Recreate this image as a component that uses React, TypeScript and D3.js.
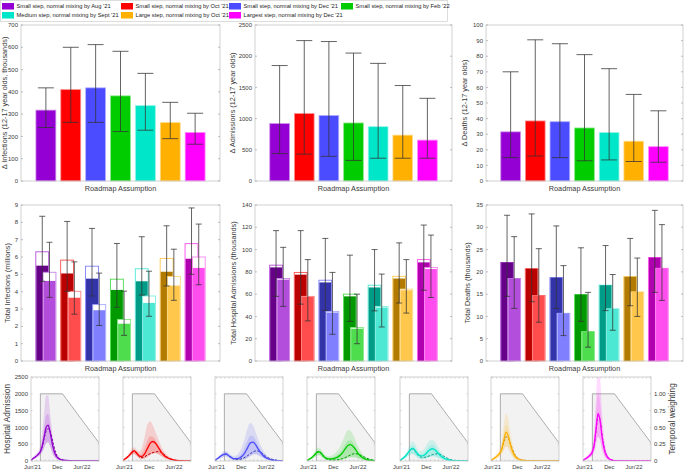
import React from "react";
import * as d3 from "d3";

const FONT = "'Liberation Sans', Arial, Helvetica, sans-serif";

// ---------- scenarios / colours ----------
const scenarioLabels = [
  "Small step, normal mixing by Aug '21",
  "Small step, normal mixing by Oct '21",
  "Small step, normal mixing by Dec '21",
  "Small step, normal mixing by Feb '22",
  "Medium step, normal mixing by Sept '21",
  "Large step, normal mixing by Oct '21",
  "Largest step, normal mixing by Dec '21",
];
const baseColors = ["#9400d3", "#ff0000", "#4b4bff", "#00cc00", "#00e6c8", "#ffb000", "#ff00ff"];
const darkColors = ["#660088", "#bb0000", "#3333aa", "#009900", "#009c88", "#b37a00", "#b000b0"];
const lightColors = ["#b34ddb", "#ff4d4d", "#8080ff", "#4ddd4d", "#4de8d4", "#ffc84d", "#ff4dee"];

// ---------- top row: change for 12-17 year olds ----------
const dInfMed = [318, 410, 418, 382, 338, 262, 218];
const dInfLo = [240, 263, 263, 222, 228, 190, 165];
const dInfHi = [418, 600, 612, 582, 483, 353, 304];

const dAdmMed = [920, 1080, 1050, 930, 870, 735, 655];
const dAdmLo = [440, 430, 395, 330, 365, 365, 365];
const dAdmHi = [1850, 2250, 2235, 2050, 1885, 1530, 1325];

const dDeaMed = [31.5, 38.5, 38, 34, 31, 25.5, 22];
const dDeaLo = [15, 16, 15, 13, 13.5, 12.5, 12];
const dDeaHi = [70, 90.5, 88, 81, 72, 55.5, 45];

// ---------- middle row: totals (dark = left bar, light = right bar) ----------
const infDark = [5.5, 5.05, 4.75, 4.1, 4.6, 5.15, 5.9];
const infDarkHollow = [6.3, 5.82, 5.47, 4.72, 5.32, 5.92, 6.77];
const infDarkLo = [4.6, 4.02, 3.75, 3.1, 3.8, 4.33, 5.0];
const infDarkHi = [8.35, 8.05, 7.65, 6.78, 7.17, 7.8, 8.83];
const infLight = [4.62, 3.65, 2.93, 2.15, 3.35, 4.35, 5.37];
const infLightHollow = [5.12, 4.02, 3.25, 2.4, 3.75, 4.88, 6.0];
const infLightLo = [3.67, 2.7, 2.05, 1.48, 2.58, 3.5, 4.4];
const infLightHi = [6.85, 5.72, 5.07, 4.03, 5.18, 6.45, 7.9];

const admDark = [84, 77.5, 70.5, 58, 66, 74, 88.5];
const admDarkHollow = [86, 79.5, 72.5, 60, 68, 76, 91];
const admDarkLo = [58, 51, 45.5, 35.5, 45, 52, 63.5];
const admDarkHi = [117, 117, 110, 95, 100, 106, 122];
const admLight = [73, 57.5, 43.5, 29, 48, 63.5, 82.5];
const admLightHollow = [74, 58, 44.5, 30, 49, 64.5, 84];
const admLightLo = [49, 36, 24, 15.5, 30.5, 43, 57];
const admLightHi = [102, 91, 79.5, 60, 78, 91, 113];

const deaDark = [22.1, 20.7, 18.7, 14.9, 17, 18.9, 23.2];
const deaDarkHollow = [22.1, 20.7, 18.7, 14.9, 17, 18.9, 23.2];
const deaDarkLo = [14.5, 13.3, 11.8, 8.9, 11.3, 12.4, 15.4];
const deaDarkHi = [32.7, 33, 30.3, 25.4, 25.9, 27.5, 33.8];
const deaLight = [18.5, 14.7, 10.7, 6.6, 11.7, 15.5, 20.8];
const deaLightHollow = [18.5, 14.7, 10.7, 6.6, 11.7, 15.5, 20.8];
const deaLightLo = [11.8, 8.7, 5.7, 3.1, 6.9, 10, 13.6];
const deaLightHi = [27.9, 25.2, 21.4, 15.4, 19.4, 23.1, 30.6];

// ---------- bottom row: daily hospital admissions ----------
// days since 1 June 2021
const days = [-11, 0, 20, 40, 55, 70, 85, 100, 115, 130, 150, 170, 190, 210, 230, 250, 270, 290, 310, 340, 370, 410, 450, 490];

const admMedian = [
  [20, 60, 120, 190, 260, 420, 700, 1000, 1070, 850, 430, 180, 80, 40, 25, 15, 10, 8, 5, 4, 3, 2, 1, 1],
  [20, 50, 110, 190, 260, 300, 260, 190, 140, 140, 220, 380, 530, 580, 520, 400, 270, 170, 110, 55, 25, 10, 4, 2],
  [20, 50, 110, 170, 200, 210, 180, 130, 90, 70, 70, 90, 150, 250, 400, 540, 560, 470, 340, 180, 80, 30, 10, 5],
  [15, 40, 90, 160, 230, 275, 265, 200, 130, 85, 65, 65, 80, 110, 160, 240, 360, 460, 490, 380, 200, 70, 25, 10],
  [20, 50, 110, 200, 280, 350, 375, 320, 230, 170, 150, 180, 260, 340, 365, 320, 230, 150, 90, 40, 18, 8, 4, 2],
  [15, 45, 100, 170, 240, 380, 650, 860, 760, 520, 260, 120, 60, 30, 18, 12, 8, 6, 5, 4, 3, 2, 1, 1],
  [15, 45, 100, 170, 250, 450, 950, 1420, 1200, 700, 280, 110, 45, 20, 10, 6, 4, 3, 2, 2, 1, 1, 1, 1],
];
const admDashed = [
  [20, 60, 120, 190, 255, 400, 660, 880, 960, 880, 560, 250, 100, 45, 25, 15, 10, 8, 5, 4, 3, 2, 1, 1],
  [20, 50, 110, 190, 255, 290, 240, 160, 110, 100, 130, 180, 220, 250, 270, 280, 260, 200, 130, 60, 25, 10, 4, 2],
  [20, 50, 110, 170, 200, 205, 170, 120, 80, 55, 45, 50, 70, 110, 160, 220, 270, 300, 290, 220, 120, 50, 20, 8],
  [15, 40, 90, 160, 230, 270, 255, 180, 110, 65, 40, 30, 30, 35, 50, 70, 100, 140, 180, 220, 200, 120, 50, 20],
  [20, 50, 110, 200, 275, 340, 360, 290, 200, 140, 110, 110, 130, 160, 190, 210, 215, 190, 145, 80, 35, 12, 5, 2],
  [15, 45, 100, 170, 240, 370, 580, 720, 690, 540, 320, 160, 80, 40, 22, 14, 9, 7, 5, 4, 3, 2, 1, 1],
  [15, 45, 100, 170, 245, 430, 900, 1350, 1230, 760, 310, 120, 50, 22, 11, 6, 4, 3, 2, 2, 1, 1, 1, 1],
];
const admHi95 = [
  [40, 100, 190, 290, 420, 800, 1400, 1950, 1950, 1450, 700, 320, 150, 80, 50, 35, 25, 20, 15, 12, 10, 8, 6, 5],
  [35, 80, 160, 290, 370, 410, 360, 300, 300, 420, 750, 1100, 1180, 1050, 850, 650, 450, 300, 200, 110, 50, 20, 8, 4],
  [40, 80, 170, 260, 300, 300, 260, 200, 160, 150, 180, 280, 450, 700, 1000, 1130, 1050, 850, 620, 350, 170, 70, 30, 15],
  [30, 70, 150, 260, 350, 400, 380, 300, 210, 160, 140, 160, 210, 300, 420, 580, 780, 920, 900, 680, 400, 160, 60, 25],
  [35, 80, 170, 300, 430, 560, 590, 510, 380, 300, 300, 380, 520, 620, 640, 560, 420, 280, 180, 90, 40, 18, 8, 4],
  [30, 80, 170, 270, 380, 650, 1150, 1420, 1300, 900, 460, 210, 100, 50, 30, 20, 15, 12, 10, 8, 6, 5, 4, 3],
  [30, 80, 170, 280, 420, 850, 1900, 2800, 2500, 1400, 550, 220, 90, 40, 20, 12, 8, 6, 5, 4, 3, 2, 2, 1],
];
const admLo95 = [
  [10, 35, 75, 120, 170, 250, 380, 520, 560, 430, 200, 80, 35, 15, 8, 5, 3, 2, 1, 1, 0, 0, 0, 0],
  [8, 25, 60, 130, 190, 210, 170, 110, 70, 60, 80, 130, 180, 220, 230, 200, 150, 100, 60, 30, 12, 5, 2, 1],
  [10, 25, 60, 100, 130, 140, 110, 70, 40, 25, 20, 25, 35, 60, 100, 150, 190, 200, 170, 100, 45, 15, 5, 2],
  [8, 20, 50, 90, 140, 170, 160, 110, 60, 35, 20, 15, 15, 18, 25, 40, 60, 90, 110, 110, 70, 30, 10, 4],
  [8, 25, 60, 110, 160, 200, 210, 170, 110, 75, 60, 65, 90, 120, 140, 130, 100, 65, 40, 15, 6, 2, 1, 0],
  [6, 22, 55, 100, 150, 220, 340, 430, 390, 260, 120, 50, 22, 10, 5, 3, 2, 1, 1, 0, 0, 0, 0, 0],
  [6, 22, 55, 100, 150, 260, 500, 720, 620, 340, 120, 45, 18, 8, 4, 2, 1, 0, 0, 0, 0, 0, 0, 0],
];
const admHi50 = [
  [30, 75, 150, 230, 330, 560, 950, 1350, 1400, 1100, 560, 240, 110, 55, 35, 22, 15, 12, 9, 7, 5, 4, 3, 2],
  [27, 62, 130, 230, 310, 345, 300, 235, 195, 230, 400, 620, 740, 720, 610, 480, 340, 220, 140, 75, 33, 13, 5, 2],
  [28, 62, 135, 210, 245, 250, 215, 160, 115, 100, 110, 160, 260, 420, 620, 760, 740, 610, 450, 250, 120, 48, 18, 8],
  [20, 52, 115, 200, 280, 330, 315, 245, 165, 115, 95, 100, 125, 170, 240, 340, 490, 600, 610, 480, 270, 100, 38, 15],
  [27, 62, 135, 240, 340, 430, 460, 400, 290, 220, 210, 260, 370, 460, 480, 420, 310, 200, 125, 60, 27, 12, 5, 3],
  [22, 60, 130, 215, 300, 480, 850, 1080, 980, 680, 350, 160, 78, 40, 23, 15, 11, 9, 7, 6, 4, 3, 2, 2],
  [22, 60, 130, 220, 320, 620, 1350, 2000, 1750, 1000, 400, 160, 65, 30, 15, 9, 6, 4, 3, 3, 2, 1, 1, 1],
];

// temporal weighting (days since 1 June 2021, weight)
const weightDays = [58, 58, 221, 589];
const weightVals = [0, 1, 1, 0];

const admTicks = [0, 500, 1000, 1500, 2000, 2500];
const weightTicks = ["0", "0.25", "0.50", "0.75", "1.00"];
const timeTickDays = [0, 183, 365];
const timeTickLabels = ["Jun'21", "Dec", "Jun'22"];

// ---------- layout ----------
const COLS = [
  { l: 21, r: 220 },
  { l: 255, r: 452 },
  { l: 486, r: 683 },
];
const ROW1 = { t: 25, b: 181 };
const ROW2 = { t: 205, b: 361 };
const FRAME = "#c6c6c6";
const TXT = "#3a3a3a";

function YAxis({ y, l, r, ticks, fmt }) {
  return (
    <g>
      {ticks.map((v, i) => (
        <g key={i}>
          <line x1={l} x2={l + 2} y1={y(v)} y2={y(v)} stroke="#999" strokeWidth={0.6} />
          <line x1={r - 2} x2={r} y1={y(v)} y2={y(v)} stroke="#999" strokeWidth={0.6} />
          <text x={l - 3} y={y(v)} dy="0.35em" textAnchor="end" fontSize={6} fill={TXT} fontFamily={FONT}>
            {fmt ? fmt(v) : v}
          </text>
        </g>
      ))}
    </g>
  );
}

function ErrorBar({ x, y0, y1, cap }) {
  return (
    <g stroke="#333" strokeWidth={0.9} strokeOpacity={0.85}>
      <line x1={x} x2={x} y1={y0} y2={y1} />
      <line x1={x - cap / 2} x2={x + cap / 2} y1={y0} y2={y0} />
      <line x1={x - cap / 2} x2={x + cap / 2} y1={y1} y2={y1} />
    </g>
  );
}

function TopPanel({ col, ymax, step, med, lo, hi, label, labelX }) {
  const { l, r } = col;
  const { t, b } = ROW1;
  const x = d3.scaleLinear().domain([0, 8]).range([l, r]);
  const y = d3.scaleLinear().domain([0, ymax]).range([b, t]);
  const ticks = d3.range(0, ymax + step / 2, step);
  const bw = x(0.8) - x(0);
  return (
    <g>
      <rect x={l} y={t} width={r - l} height={b - t} fill="#fff" />
      {med.map((v, i) => (
        <rect key={i} x={x(i + 1) - bw / 2} y={y(v)} width={bw} height={y(0) - y(v)} fill={baseColors[i]}
          stroke={d3.interpolateRgb(baseColors[i], "#fff")(0.55)} strokeWidth={0.8} />
      ))}
      {med.map((v, i) => (
        <ErrorBar key={i} x={x(i + 1)} y0={y(lo[i])} y1={y(hi[i])} cap={16} />
      ))}
      <rect x={l} y={t} width={r - l} height={b - t} fill="none" stroke={FRAME} strokeWidth={0.8} />
      <YAxis y={y} l={l} r={r} ticks={ticks} />
      <text x={(l + r) / 2} y={190.5} textAnchor="middle" fontSize={7.3} fill={TXT} fontFamily={FONT}>Roadmap Assumption</text>
      <text transform={`translate(${labelX},${(t + b) / 2}) rotate(-90)`} textAnchor="middle" fontSize={7.3} fill={TXT} fontFamily={FONT}>{label}</text>
    </g>
  );
}

function MidPanel({ col, ymax, step, dark, darkHollow, darkLo, darkHi, light, lightHollow, lightLo, lightHi, label, labelX }) {
  const { l, r } = col;
  const { t, b } = ROW2;
  const x = d3.scaleLinear().domain([0, 8]).range([l, r]);
  const y = d3.scaleLinear().domain([0, ymax]).range([b, t]);
  const ticks = d3.range(0, ymax + step / 2, step);
  const bw = x(0.52) - x(0);
  const off = x(0.145) - x(0);
  return (
    <g>
      <rect x={l} y={t} width={r - l} height={b - t} fill="#fff" />
      {dark.map((v, i) => {
        const cx1 = x(i + 1) - off;
        const cx2 = x(i + 1) + off;
        return (
          <g key={i}>
            <rect x={cx1 - bw / 2} y={y(darkHollow[i])} width={bw} height={y(0) - y(darkHollow[i])} fill="#fff" stroke={lightColors[i]} strokeWidth={0.9} />
            <rect x={cx1 - bw / 2 + 0.5} y={y(v)} width={bw - 1} height={y(0) - y(v)} fill={darkColors[i]} />
            <rect x={cx2 - bw / 2} y={y(lightHollow[i])} width={bw} height={y(0) - y(lightHollow[i])} fill="#fff" stroke={d3.interpolateRgb(lightColors[i], "#fff")(0.3)} strokeWidth={0.9} />
            <rect x={cx2 - bw / 2 + 0.5} y={y(light[i])} width={bw - 1} height={y(0) - y(light[i])} fill={lightColors[i]} />
          </g>
        );
      })}
      {dark.map((v, i) => (
        <g key={i}>
          <ErrorBar x={x(i + 1) - off} y0={y(darkLo[i])} y1={y(darkHi[i])} cap={6} />
          <ErrorBar x={x(i + 1) + off} y0={y(lightLo[i])} y1={y(lightHi[i])} cap={6} />
        </g>
      ))}
      <rect x={l} y={t} width={r - l} height={b - t} fill="none" stroke={FRAME} strokeWidth={0.8} />
      <YAxis y={y} l={l} r={r} ticks={ticks} />
      <text x={(l + r) / 2} y={370.5} textAnchor="middle" fontSize={7.3} fill={TXT} fontFamily={FONT}>Roadmap Assumption</text>
      <text transform={`translate(${labelX},${(t + b) / 2}) rotate(-90)`} textAnchor="middle" fontSize={7.3} fill={TXT} fontFamily={FONT}>{label}</text>
    </g>
  );
}

const BOT_LEFTS = [31, 123, 215, 307, 400, 491, 583];
const BOT_W = 68;
const BOT_T = 377;
const BOT_B = 461;

function BottomPanel({ idx }) {
  const l = BOT_LEFTS[idx];
  const r = l + BOT_W;
  const x = d3.scaleLinear().domain([-11, 490]).range([l, r]);
  const y = d3.scaleLinear().domain([0, 2500]).range([BOT_B, BOT_T]);
  const w = d3.scaleLinear().domain([0, 1]).range([y(0), y(2000)]);
  const clipId = `clip${idx}`;
  const pts = days.map((d, i) => ({
    d,
    m: admMedian[idx][i],
    s: admDashed[idx][i],
    hi: admHi95[idx][i],
    lo: admLo95[idx][i],
    h50: admHi50[idx][i],
  }));
  const area95 = d3.area().x((p) => x(p.d)).y0((p) => y(p.lo)).y1((p) => y(p.hi)).curve(d3.curveMonotoneX);
  const area50 = d3.area().x((p) => x(p.d)).y0((p) => y(p.lo)).y1((p) => y(p.h50)).curve(d3.curveMonotoneX);
  const lineM = d3.line().x((p) => x(p.d)).y((p) => y(p.m)).curve(d3.curveMonotoneX);
  const lineS = d3.line().x((p) => x(p.d)).y((p) => y(p.s)).curve(d3.curveMonotoneX);
  const wPts = weightDays.map((d, i) => [x(d), w(weightVals[i])]);
  const wLine = d3.line()(wPts);
  const wArea = d3.line()([...wPts, [x(weightDays[0]), w(0)]]) + "Z";
  const start = new Date(2021, 5, 1);
  const months = d3.timeMonth.range(new Date(2021, 5, 1), new Date(2022, 10, 1)).map((m) => d3.timeDay.count(start, m));
  return (
    <g>
      <defs>
        <clipPath id={clipId}>
          <rect x={l} y={BOT_T} width={BOT_W} height={BOT_B - BOT_T} />
        </clipPath>
      </defs>
      <rect x={l} y={BOT_T} width={BOT_W} height={BOT_B - BOT_T} fill="#fff" />
      <g clipPath={`url(#${clipId})`}>
        <path d={wArea} fill="#f2f2f2" />
        <path d={wLine} fill="none" stroke="#8c8c8c" strokeWidth={0.7} />
        <path d={area95(pts)} fill={baseColors[idx]} fillOpacity={0.14} />
        <path d={area50(pts)} fill={baseColors[idx]} fillOpacity={0.16} />
        <path d={lineS(pts)} fill="none" stroke={darkColors[idx]} strokeWidth={1} strokeDasharray="2.5,1.5" />
        <path d={lineM(pts)} fill="none" stroke={baseColors[idx]} strokeWidth={1.3} />
      </g>
      {months.filter((d) => d >= -11 && d <= 490).map((d, i) => (
        <g key={i} stroke="#aaa" strokeWidth={0.5}>
          <line x1={x(d)} x2={x(d)} y1={BOT_B} y2={BOT_B - 1.5} />
          <line x1={x(d)} x2={x(d)} y1={BOT_T} y2={BOT_T + 1.5} />
        </g>
      ))}
      {admTicks.map((v, i) => (
        <g key={i} stroke="#aaa" strokeWidth={0.5}>
          <line x1={l} x2={l + 1.5} y1={y(v)} y2={y(v)} />
          <line x1={r - 1.5} x2={r} y1={y(v)} y2={y(v)} />
        </g>
      ))}
      <rect x={l} y={BOT_T} width={BOT_W} height={BOT_B - BOT_T} fill="none" stroke={FRAME} strokeWidth={0.8} />
      {timeTickDays.map((d, i) => (
        <text key={i} x={x(d)} y={469} textAnchor="middle" fontSize={5.8} fill={TXT} fontFamily={FONT}>{timeTickLabels[i]}</text>
      ))}
      {idx === 0 &&
        admTicks.map((v, i) => (
          <text key={i} x={l - 3} y={y(v)} dy="0.35em" textAnchor="end" fontSize={6} fill={TXT} fontFamily={FONT}>{v}</text>
        ))}
      {idx === 0 && (
        <text transform={`translate(10,${(BOT_T + BOT_B) / 2}) rotate(-90)`} textAnchor="middle" fontSize={8.3} fill={TXT} fontFamily={FONT}>Hospital Admission</text>
      )}
      {idx === 6 &&
        weightTicks.map((s, i) => (
          <text key={i} x={r + 3} y={w(+s)} dy="0.35em" textAnchor="start" fontSize={6} fill={TXT} fontFamily={FONT}>{s}</text>
        ))}
      {idx === 6 && (
        <text transform={`translate(675,${(BOT_T + BOT_B) / 2}) rotate(-90)`} textAnchor="middle" fontSize={8.3} fill={TXT} fontFamily={FONT}>Temporal weighting</text>
      )}
    </g>
  );
}

const legendRows = [[0, 1, 2, 3], [4, 5, 6]];
const legendColX = [2, 121, 229, 341];

function Legend() {
  return (
    <g>
      <rect x={0.5} y={0.5} width={447} height={21} fill="#fff" stroke="#cfcfcf" strokeWidth={0.7} />
      {legendRows.map((row, ri) =>
        row.map((si, ci) => (
          <g key={si}>
            <rect x={legendColX[ci]} y={ri * 9 + 3} width={12} height={6.5} fill={baseColors[si]} />
            <text x={legendColX[ci] + 14.5} y={ri * 9 + 6.4} dy="0.35em" fontSize={5.75} fill="#222" fontFamily={FONT}>{scenarioLabels[si]}</text>
          </g>
        ))
      )}
    </g>
  );
}

export default function App() {
  return (
    <svg width={685} height={470} style={{ position: "absolute", left: 0, top: 0, background: "#fff" }}>
      <rect width={685} height={470} fill="#fff" />
      <TopPanel col={COLS[0]} ymax={700} step={100} med={dInfMed} lo={dInfLo} hi={dInfHi} label="Δ Infections (12-17 year olds, thousands)" labelX={7} />
      <TopPanel col={COLS[1]} ymax={2500} step={500} med={dAdmMed} lo={dAdmLo} hi={dAdmHi} label="Δ Admissions (12-17 year olds)" labelX={235} />
      <TopPanel col={COLS[2]} ymax={100} step={10} med={dDeaMed} lo={dDeaLo} hi={dDeaHi} label="Δ Deaths (12-17 year olds)" labelX={467} />
      <MidPanel col={COLS[0]} ymax={9} step={1} dark={infDark} darkHollow={infDarkHollow} darkLo={infDarkLo} darkHi={infDarkHi}
        light={infLight} lightHollow={infLightHollow} lightLo={infLightLo} lightHi={infLightHi} label="Total Infections (millions)" labelX={10} />
      <MidPanel col={COLS[1]} ymax={140} step={20} dark={admDark} darkHollow={admDarkHollow} darkLo={admDarkLo} darkHi={admDarkHi}
        light={admLight} lightHollow={admLightHollow} lightLo={admLightLo} lightHi={admLightHi} label="Total Hospital Admissions (thousands)" labelX={236} />
      <MidPanel col={COLS[2]} ymax={35} step={5} dark={deaDark} darkHollow={deaDarkHollow} darkLo={deaDarkLo} darkHi={deaDarkHi}
        light={deaLight} lightHollow={deaLightHollow} lightLo={deaLightLo} lightHi={deaLightHi} label="Total Deaths (thousands)" labelX={470} />
      {BOT_LEFTS.map((_, i) => (
        <BottomPanel key={i} idx={i} />
      ))}
      <Legend />
    </svg>
  );
}
